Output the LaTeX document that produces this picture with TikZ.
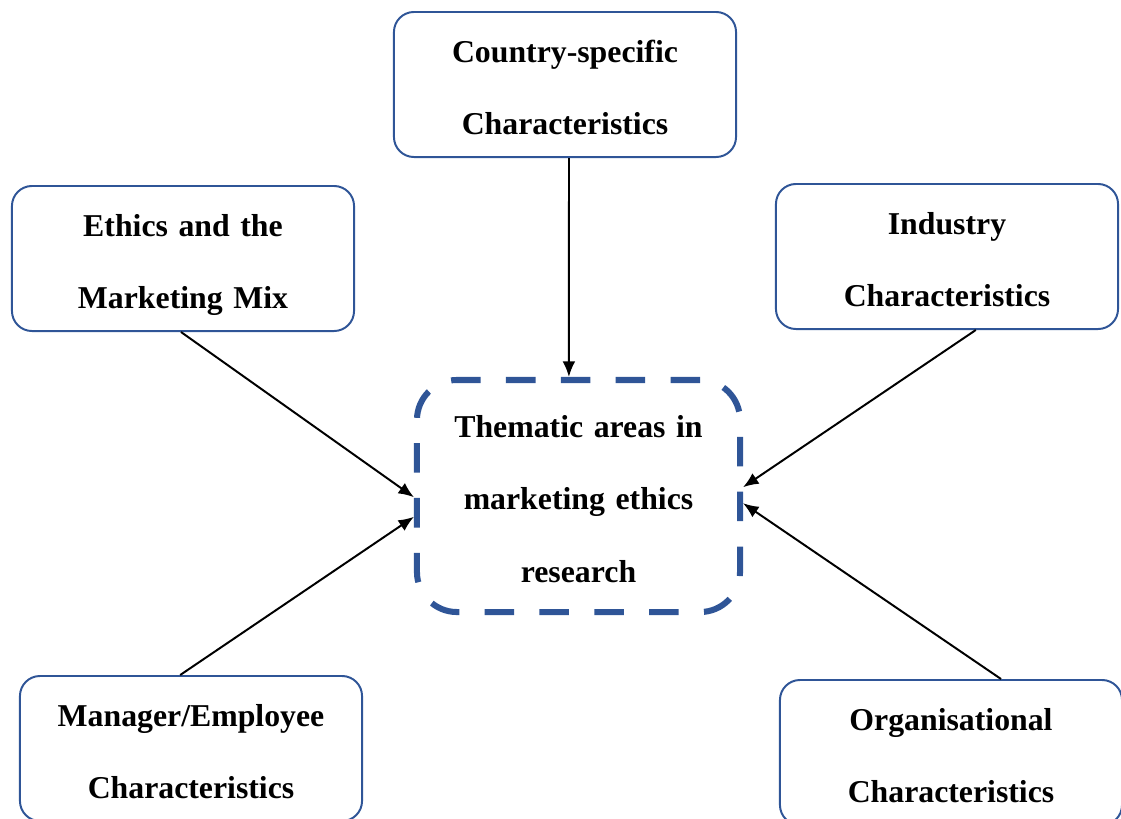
\documentclass[tikz,border=0pt]{standalone}
\usepackage{fontspec}
\setmainfont{Liberation Serif}
\usepackage{tikz}
\usetikzlibrary{arrows.meta}
\definecolor{boxblue}{RGB}{47,85,151}

\begin{document}
\begin{tikzpicture}[x=0.025cm,y=-0.025cm,>={Latex[length=11pt,width=9pt]}]
        % page frame
        \useasboundingbox (0,0) rectangle (1121,818);

        \tikzset{
            factor/.style={draw=boxblue,line width=1.4pt,rounded corners=0.5cm,
                minimum width=8.55cm,minimum height=3.625cm,inner sep=0pt,
                text width=8.3cm,align=center,
                font=\fontsize{22.6}{51.7}\selectfont\bfseries,
                execute at begin node={\rule{0pt}{20pt}}},
            theme/.style={draw=boxblue,line width=4.3pt,dash pattern=on 21pt off 18pt,
                rounded corners=1cm,minimum width=8.075cm,minimum height=5.8cm,
                inner sep=0pt,text width=7.8cm,align=center,
                font=\fontsize{22.6}{51.7}\selectfont\bfseries,
                execute at begin node={\rule{0pt}{20pt}}},
            link/.style={->,line width=1.4pt,black}
        }

        % the centre box
        \node[theme] (theme) at (578.5,496) {Thematic areas in\\marketing ethics\\research};

        % the five surrounding boxes
        \node[factor] (country) at (565,84.5)  {Country-specific\\Characteristics};
        \node[factor,execute at begin node={\rule{0pt}{25pt}}] (ethics) at (183,258.5)
            {Ethics and the\\Marketing Mix};
        \node[factor] (industry) at (947,256.5) {Industry\\Characteristics};
        \node[factor] (manager) at (191,748.5) {Manager/Employee\\Characteristics};
        \node[factor] (organ)   at (951,752.5) {Organisational\\Characteristics};

        % arrows into the centre
        \draw[link] ([xshift=0.1cm]country.south) -- ([xshift=-0.24cm]theme.north);
        \draw[link] ([xshift=-0.05cm]ethics.south) -- ([yshift=-0.03cm]theme.west);
        \draw[link] ([xshift=0.72cm]industry.south) -- ([yshift=0.22cm]theme.east);
        \draw[link] ([xshift=-0.27cm]manager.north) -- ([yshift=-0.52cm]theme.west);
        \draw[link] ([xshift=1.25cm]organ.north) -- ([yshift=-0.18cm]theme.east);
\end{tikzpicture}
\end{document}
